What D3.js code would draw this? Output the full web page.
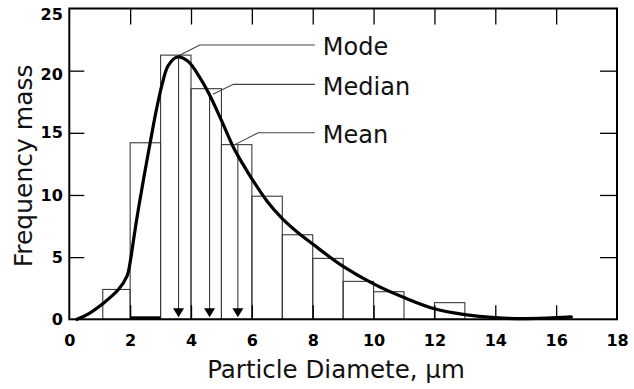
<!DOCTYPE html>
<html><head><meta charset="utf-8">
<script src="https://cdn.jsdelivr.net/npm/d3@7"></script>
<style>
html,body{margin:0;padding:0;background:#fff;}
svg{display:block;}
</style></head>
<body>
<svg id="chart" width="634" height="389"></svg>
<script>
// ---- data ----
const binStart = [1.1, 2, 3, 4, 5, 6, 7, 8, 9, 10, 12];
const binEnd   = [2, 3, 4, 5, 6, 7, 8, 9, 10, 11, 13];
const binFreq  = [2.4, 14.2, 21.25, 18.55, 14.05, 9.9, 6.8, 4.9, 3.05, 2.22, 1.34];

const curveX = [0.25, 0.6, 1.12, 1.6, 1.9, 2.0, 2.1, 2.2, 2.3, 2.45, 2.65, 2.85, 3.05, 3.25, 3.55, 3.9, 4.3, 4.6, 5.0, 5.4, 5.7, 6.0, 6.5, 7.0, 7.5, 8.0, 9.0, 10.0, 11.0, 12.0, 13.0, 14.0, 15.0, 16.0, 16.5];
const curveY = [0, 0.4, 1.3, 2.35, 3.5, 4.6, 6.2, 7.8, 9.3, 11.4, 14.1, 16.7, 18.9, 20.4, 21.1, 20.75, 19.4, 18.1, 16.0, 13.8, 12.5, 11.3, 9.5, 8.1, 7.0, 6.05, 4.25, 2.85, 1.75, 0.85, 0.38, 0.13, 0.06, 0.13, 0.2];

const baseSegX = [2, 3];
const baseSegY = [0.12, 0.12];

const statNames  = ["Mode", "Median", "Mean"];
const statX      = [3.59, 4.61, 5.54];   // arrow positions
const statTopY   = [21.2, 18.1, 14.05];  // where the arrow / leader starts
const statLeadX0 = [3.59, 4.72, 5.44];
const elbowX     = [4.29, 5.39, 6.21];
const elbowY     = [22.07, 18.9, 15.0];
const leaderEndX = 8.07;

const xTicks = [0, 2, 4, 6, 8, 10, 12, 14, 16, 18];
const yTicks = [0, 5, 10, 15, 20, 25];

const xTitle = "Particle Diamete, µm";
const yTitle = "Frequency mass";

// ---- layout ----
const svg = d3.select("#chart");
const x = d3.scaleLinear().domain([0, 18]).range([69.3, 617]);
const y = d3.scaleLinear().domain([0, 25]).range([319.3, 8.5]);

const FONT = "'DejaVu Sans', Verdana, sans-serif";

// bars
svg.append("g").selectAll("rect")
  .data(binStart.map((s, i) => ({s, e: binEnd[i], f: binFreq[i]})))
  .join("rect")
  .attr("x", d => x(d.s))
  .attr("y", d => y(d.f))
  .attr("width", d => x(d.e) - x(d.s))
  .attr("height", d => y(0) - y(d.f))
  .attr("fill", "none")
  .attr("stroke", "#3a3a3a")
  .attr("stroke-width", 1.1);

// arrows
const ag = svg.append("g");
statNames.forEach((n, i) => {
  ag.append("line")
    .attr("x1", x(statX[i])).attr("x2", x(statX[i]))
    .attr("y1", y(statTopY[i])).attr("y2", y(0) - 8)
    .attr("stroke", "#3a3a3a").attr("stroke-width", 1.1);
  const cx = x(statX[i]), tip = y(0) - 2;
  ag.append("path")
    .attr("d", `M${cx - 5.5},${tip - 9}L${cx + 5.5},${tip - 9}L${cx},${tip}Z`)
    .attr("fill", "#000");
  // leader
  ag.append("path")
    .attr("d", d3.line()([[x(statLeadX0[i]), y(statTopY[i])], [x(elbowX[i]), y(elbowY[i])], [x(leaderEndX), y(elbowY[i])]]))
    .attr("fill", "none").attr("stroke", "#444").attr("stroke-width", 1.1);
  ag.append("text")
    .attr("x", x(leaderEndX) + 8)
    .attr("y", y(elbowY[i]) + 2.5)
    .attr("dominant-baseline", "central")
    .attr("font-family", FONT).attr("font-size", 24)
    .attr("fill", "#111")
    .text(n);
});

// baseline segment
svg.append("path")
  .attr("d", d3.line().x(d => x(d[0])).y(d => y(d[1]))(baseSegX.map((v, i) => [v, baseSegY[i]])))
  .attr("stroke", "#000").attr("stroke-width", 3).attr("fill", "none");

// curve
svg.append("path")
  .attr("d", d3.line().x(d => x(d[0])).y(d => y(d[1])).curve(d3.curveCatmullRom.alpha(0.5))(curveX.map((v, i) => [v, curveY[i]])))
  .attr("fill", "none").attr("stroke", "#000").attr("stroke-width", 3.2)
  .attr("stroke-linecap", "round");

// axes (inward ticks)
const inner = xTicks.filter(v => v > 0 && v < 18);
const innerY = yTicks.filter(v => v > 0 && v < 25);

const gb = svg.append("g").attr("transform", `translate(0,${y(0)})`)
  .call(d3.axisBottom(x).tickValues(xTicks).tickSizeInner(-14).tickSizeOuter(0).tickPadding(15.5));
gb.selectAll(".tick line").filter(d => d === 0 || d === 18).remove();
const gl = svg.append("g").attr("transform", `translate(${x(0)},0)`)
  .call(d3.axisLeft(y).tickValues(yTicks).tickSizeInner(-15).tickSizeOuter(0).tickPadding(6.5));
gl.selectAll(".tick line").filter(d => d === 0 || d === 25).remove();
gl.selectAll(".tick text").attr("dy", d => d === 25 ? "0.7em" : (d === 20 ? "0.55em" : "0.32em"));
svg.append("g").attr("transform", `translate(0,${y(25)})`)
  .call(d3.axisTop(x).tickValues(inner).tickSizeInner(-16).tickSizeOuter(0).tickFormat(""));
svg.append("g").attr("transform", `translate(${x(18)},0)`)
  .call(d3.axisRight(y).tickValues(innerY).tickSizeInner(-17).tickSizeOuter(0).tickFormat(""));

svg.selectAll(".domain").remove();
svg.selectAll(".tick line").attr("stroke", "#000").attr("stroke-width", 1.3);
svg.selectAll(".tick text")
  .attr("font-family", FONT).attr("font-size", 16).attr("font-weight", "bold").attr("fill", "#000");

// frame
svg.append("rect")
  .attr("x", x(0)).attr("y", y(25))
  .attr("width", x(18) - x(0)).attr("height", y(0) - y(25))
  .attr("fill", "none").attr("stroke", "#000").attr("stroke-width", 2);

// titles
svg.append("text")
  .attr("x", 336).attr("y", 378)
  .attr("text-anchor", "middle")
  .attr("font-family", FONT).attr("font-size", 24.5).attr("fill", "#111")
  .text(xTitle);
svg.append("text")
  .attr("transform", `translate(32,${(y(0) + y(25)) / 2 + 2}) rotate(-90)`)
  .attr("text-anchor", "middle")
  .attr("font-family", FONT).attr("font-size", 25).attr("fill", "#111")
  .text(yTitle);
</script>
</body></html>
